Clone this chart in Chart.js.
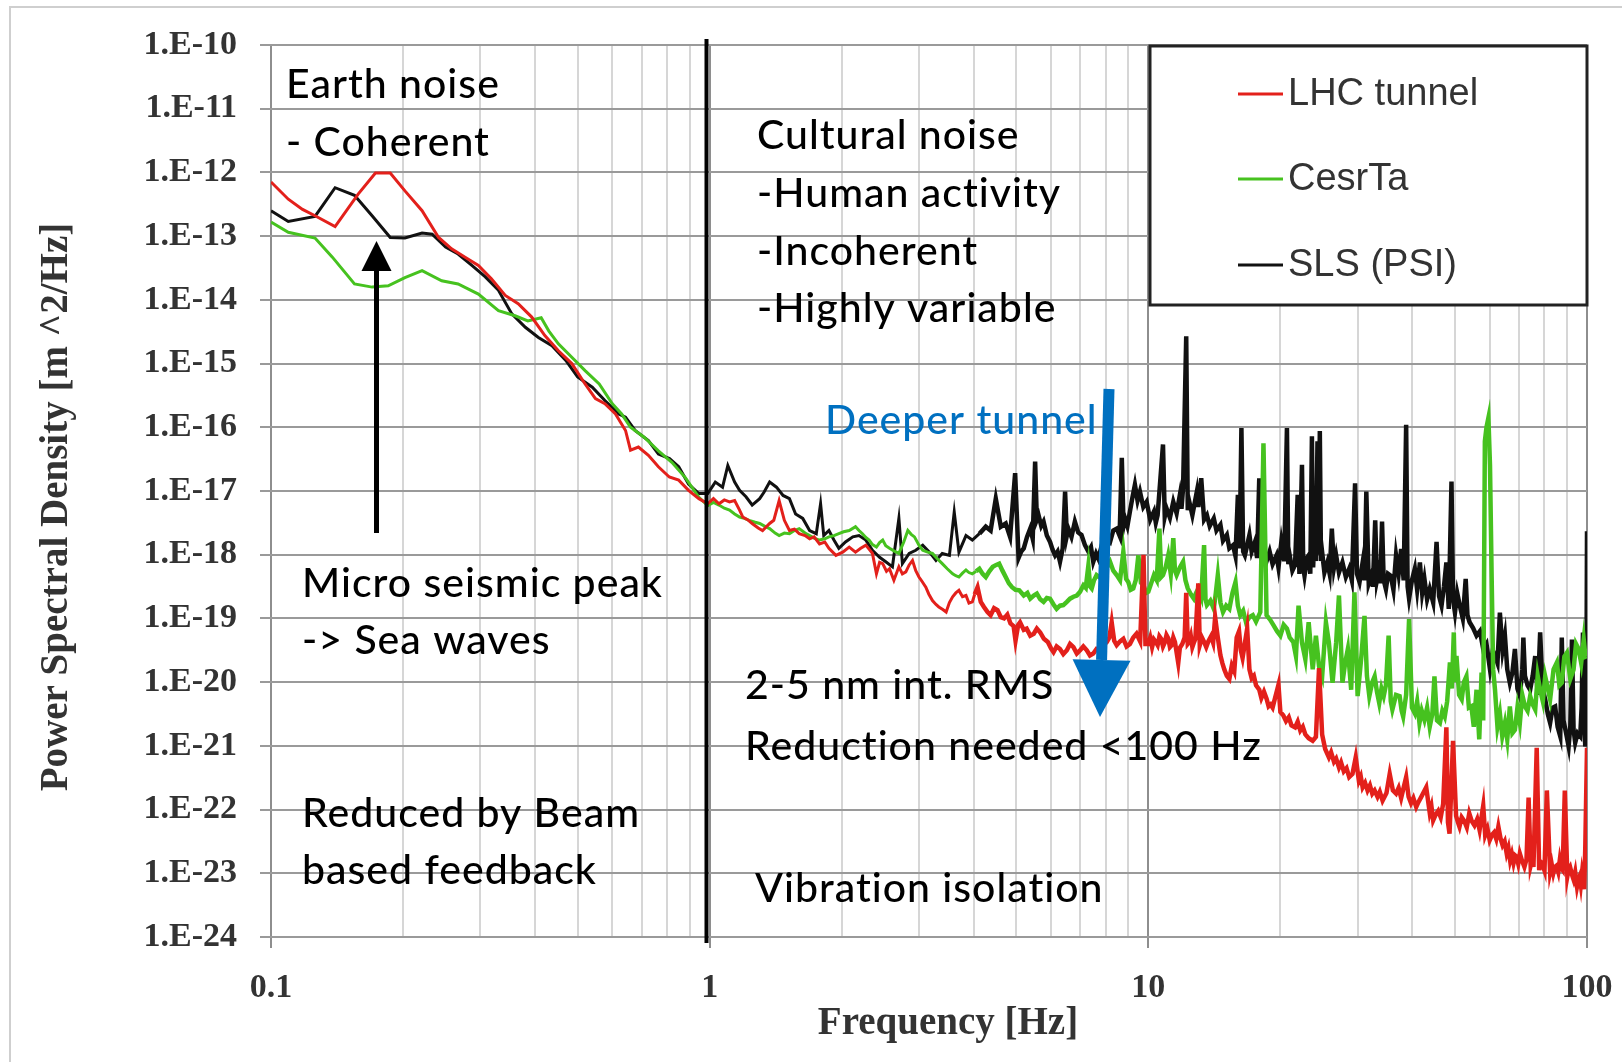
<!DOCTYPE html>
<html>
<head>
<meta charset="utf-8">
<title>Ground motion PSD</title>
<script src="https://cdn.jsdelivr.net/npm/chart.js@4.4.0/dist/chart.umd.min.js"></script>
<style>
    html, body { margin: 0; padding: 0; background: #fff; }
    #psd { display: block; }
</style>
</head>
<body>
<canvas id="psd" width="1622" height="1062"></canvas>
<script>
// [frequency in Hz, log10 of PSD in m^2/Hz]
var lhcTunnel = [
    [0.1, -12.15], [0.1095, -12.42], [0.118, -12.58], [0.126, -12.68], [0.14, -12.85], [0.158, -12.34],
    [0.173, -12.01], [0.187, -12.01], [0.202, -12.29], [0.221, -12.60], [0.241, -13.02], [0.258, -13.20],
    [0.277, -13.33], [0.297, -13.46], [0.318, -13.67], [0.342, -13.93], [0.366, -14.06], [0.393, -14.27],
    [0.421, -14.56], [0.452, -14.80], [0.485, -15.00], [0.52, -15.32], [0.549, -15.55], [0.577, -15.63],
    [0.61, -15.79], [0.643, -16.05], [0.66, -16.36], [0.688, -16.31], [0.725, -16.44], [0.764, -16.62],
    [0.809, -16.78], [0.85, -16.83], [0.895, -16.99], [0.945, -17.12], [0.99, -17.20], [1.02, -17.12],
    [1.05, -17.20], [1.08, -17.14], [1.11, -17.17], [1.14, -17.15], [1.17, -17.30], [1.19, -17.41],
    [1.22, -17.45], [1.25, -17.51], [1.29, -17.58], [1.32, -17.62], [1.37, -17.51], [1.40, -17.46],
    [1.44, -17.15], [1.48, -17.46], [1.52, -17.62], [1.56, -17.60], [1.60, -17.67], [1.65, -17.70],
    [1.69, -17.75], [1.73, -17.72], [1.78, -17.83], [1.83, -17.80], [1.87, -17.90], [1.94, -18.01],
    [2.01, -17.96], [2.08, -17.88], [2.15, -17.96], [2.21, -17.90], [2.27, -17.85], [2.35, -17.98],
    [2.40, -18.30], [2.44, -18.12], [2.48, -18.14], [2.53, -18.26], [2.57, -18.22], [2.63, -18.40],
    [2.70, -18.19], [2.75, -18.30], [2.80, -18.27], [2.85, -18.16], [2.90, -18.09], [2.95, -18.25],
    [3.00, -18.35], [3.05, -18.42], [3.11, -18.51], [3.16, -18.62], [3.22, -18.72], [3.28, -18.78],
    [3.33, -18.82], [3.40, -18.86], [3.46, -18.90], [3.52, -18.75], [3.58, -18.66], [3.64, -18.60],
    [3.70, -18.56], [3.77, -18.66], [3.84, -18.64], [3.90, -18.76], [3.97, -18.74], [4.02, -18.62],
    [4.08, -18.51], [4.15, -18.74], [4.22, -18.82], [4.30, -18.90], [4.37, -18.95], [4.45, -18.84],
    [4.53, -18.87], [4.61, -18.98], [4.69, -19.00], [4.77, -18.94], [4.85, -19.08], [4.93, -19.12],
    [4.98, -19.35], [5.05, -19.10], [5.10, -19.06], [5.20, -19.18], [5.28, -19.16], [5.38, -19.27],
    [5.48, -19.24], [5.57, -19.16], [5.67, -19.22], [5.78, -19.32], [5.90, -19.37], [6.00, -19.47],
    [6.08, -19.53], [6.18, -19.44], [6.29, -19.48], [6.40, -19.56], [6.52, -19.50], [6.63, -19.40],
    [6.75, -19.45], [6.87, -19.55], [6.99, -19.50], [7.11, -19.44], [7.24, -19.50], [7.36, -19.58],
    [7.49, -19.55], [7.62, -19.48], [7.76, -19.50], [7.90, -19.42], [8.04, -19.37], [8.15, -19.30],
    [8.25, -19.06], [8.36, -19.35], [8.47, -19.42], [8.62, -19.36], [8.77, -19.32], [8.92, -19.44],
    [9.08, -19.40], [9.24, -19.30], [9.40, -19.24], [9.58, -19.36], [9.75, -18.00], [9.85, -19.40],
    [10.0, -19.40], [10.1, -19.30], [10.2, -19.45], [10.3, -19.33], [10.4, -19.37], [10.5, -19.42],
    [10.6, -19.28], [10.7, -19.32], [10.8, -19.44], [10.9, -19.38], [11.0, -19.26], [11.1, -19.31],
    [11.2, -19.45], [11.3, -19.42], [11.4, -19.30], [11.5, -19.37], [11.7, -19.70], [11.8, -19.46],
    [11.95, -19.40], [12.1, -19.30], [12.2, -18.60], [12.3, -19.40], [12.4, -19.37], [12.5, -19.28],
    [12.6, -19.45], [12.7, -19.38], [12.8, -19.32], [13.0, -18.45], [13.1, -19.42], [13.25, -19.30],
    [13.4, -19.37], [13.55, -19.45], [13.7, -19.36], [13.9, -19.28], [14.05, -19.38], [14.2, -18.98],
    [14.4, -19.30], [14.6, -19.58], [14.75, -19.70], [14.9, -19.80], [15.1, -19.90], [15.3, -19.95],
    [15.5, -19.74], [15.7, -19.83], [15.9, -19.30], [16.1, -19.20], [16.25, -19.50], [16.4, -19.62],
    [16.8, -19.16], [17.0, -19.80], [17.2, -19.94], [17.4, -19.90], [17.6, -20.05], [17.9, -20.12],
    [18.1, -20.25], [18.35, -20.15], [18.6, -20.26], [18.8, -20.38], [19.0, -20.35], [19.2, -20.40],
    [19.8, -20.04], [20.0, -20.47], [20.3, -20.52], [20.6, -20.61], [20.9, -20.55], [21.2, -20.68],
    [21.6, -20.71], [21.9, -20.62], [22.2, -20.76], [22.5, -20.70], [22.8, -20.82], [23.2, -20.88],
    [23.7, -20.92], [24.1, -20.86], [24.5, -19.78], [24.9, -20.82], [25.3, -21.05], [25.8, -21.18],
    [26.1, -21.10], [26.5, -21.25], [26.8, -21.20], [27.2, -21.34], [27.5, -21.26], [27.9, -21.40],
    [28.3, -21.35], [28.7, -21.49], [29.2, -21.44], [29.7, -21.18], [30.2, -21.55], [30.5, -21.48],
    [30.8, -21.65], [31.2, -21.58], [31.6, -21.70], [32.0, -21.62], [32.4, -21.75], [32.8, -21.70],
    [33.3, -21.80], [33.7, -21.72], [34.2, -21.86], [34.9, -21.74], [35.5, -21.44], [36.1, -21.70],
    [36.7, -21.75], [37.2, -21.66], [37.7, -21.82], [38.7, -21.49], [39.2, -21.80], [39.7, -21.90],
    [40.2, -21.82], [40.8, -21.96], [41.3, -21.88], [41.9, -21.80], [43.0, -21.65], [43.8, -22.05],
    [44.2, -21.95], [44.6, -22.17], [45.2, -22.08], [45.8, -22.02], [46.4, -22.12], [47.0, -21.91],
    [47.8, -20.71], [48.2, -22.20], [48.6, -22.38], [49.5, -20.92], [50.3, -22.10], [50.8, -22.20],
    [51.2, -22.27], [51.8, -22.12], [52.5, -22.18], [53.2, -22.28], [53.9, -22.06], [54.6, -22.18],
    [55.4, -22.25], [56.2, -22.15], [56.9, -22.32], [58.0, -21.94], [58.6, -22.40], [59.3, -22.30],
    [60.0, -22.48], [60.7, -22.40], [61.4, -22.36], [62.1, -22.46], [62.8, -22.27], [63.5, -22.45],
    [64.2, -22.56], [64.9, -22.50], [65.6, -22.69], [66.2, -22.60], [66.8, -22.80], [67.4, -22.70],
    [68.0, -22.84], [68.6, -22.72], [69.1, -22.74], [69.7, -22.85], [70.3, -22.69], [71.1, -22.80],
    [72.0, -22.90], [72.8, -22.78], [73.6, -21.81], [74.4, -22.88], [75.0, -22.78], [75.5, -22.90],
    [76.8, -21.03], [77.8, -22.95], [78.4, -22.82], [78.9, -22.84], [80.0, -22.96], [81.0, -21.70],
    [82.4, -22.98], [83.1, -22.86], [83.8, -23.00], [84.5, -22.90], [85.2, -22.88], [86.0, -22.98],
    [86.7, -22.79], [87.4, -22.92], [88.0, -22.95], [89.0, -21.70], [90.2, -23.05], [90.8, -22.94],
    [91.5, -22.90], [92.4, -23.02], [93.2, -23.10], [94.0, -22.98], [94.9, -23.21], [95.6, -23.10],
    [96.2, -23.05], [96.8, -23.18], [97.4, -23.00], [98.0, -23.12], [98.5, -23.25], [99.1, -22.60],
    [100, -21.03]
];

var cesrTa = [
    [0.1, -12.78], [0.1095, -12.94], [0.126, -13.03], [0.138, -13.33], [0.155, -13.75], [0.17, -13.80],
    [0.185, -13.78], [0.202, -13.65], [0.221, -13.54], [0.245, -13.70], [0.267, -13.75], [0.297, -13.91],
    [0.33, -14.17], [0.36, -14.25], [0.385, -14.33], [0.413, -14.28], [0.43, -14.49], [0.452, -14.69],
    [0.485, -14.90], [0.52, -15.11], [0.56, -15.32], [0.60, -15.63], [0.63, -15.79], [0.66, -16.00],
    [0.71, -16.16], [0.764, -16.37], [0.82, -16.55], [0.88, -16.79], [0.945, -17.10], [0.99, -17.23],
    [1.02, -17.18], [1.05, -17.22], [1.08, -17.27], [1.11, -17.30], [1.14, -17.36], [1.17, -17.41],
    [1.20, -17.43], [1.23, -17.46], [1.27, -17.49], [1.30, -17.51], [1.34, -17.56], [1.37, -17.59],
    [1.41, -17.66], [1.44, -17.70], [1.48, -17.66], [1.52, -17.67], [1.56, -17.62], [1.60, -17.59],
    [1.65, -17.66], [1.69, -17.70], [1.73, -17.74], [1.78, -17.77], [1.83, -17.75], [1.87, -17.72],
    [1.92, -17.70], [1.97, -17.67], [2.02, -17.64], [2.08, -17.62], [2.15, -17.56], [2.19, -17.62],
    [2.23, -17.67], [2.27, -17.73], [2.31, -17.77], [2.35, -17.84], [2.40, -17.88], [2.44, -17.81],
    [2.48, -17.77], [2.52, -17.86], [2.57, -17.90], [2.63, -17.94], [2.70, -17.98], [2.77, -17.80],
    [2.83, -17.62], [2.88, -17.68], [2.93, -17.72], [3.00, -17.85], [3.06, -17.93], [3.14, -17.96],
    [3.22, -17.98], [3.30, -18.06], [3.39, -18.14], [3.48, -18.22], [3.58, -18.30], [3.64, -18.33],
    [3.70, -18.35], [3.77, -18.29], [3.84, -18.24], [3.90, -18.28], [3.97, -18.30], [4.05, -18.26],
    [4.12, -18.22], [4.19, -18.30], [4.26, -18.35], [4.34, -18.26], [4.42, -18.19], [4.50, -18.16],
    [4.57, -18.14], [4.65, -18.25], [4.73, -18.35], [4.81, -18.45], [4.89, -18.51], [4.98, -18.55],
    [5.08, -18.56], [5.20, -18.64], [5.30, -18.60], [5.38, -18.69], [5.48, -18.64], [5.57, -18.61],
    [5.67, -18.70], [5.77, -18.74], [5.87, -18.68], [5.97, -18.69], [6.08, -18.78], [6.18, -18.85],
    [6.29, -18.80], [6.40, -18.79], [6.52, -18.74], [6.63, -18.69], [6.75, -18.66], [6.87, -18.64],
    [6.99, -18.58], [7.11, -18.48], [7.20, -18.52], [7.30, -18.17], [7.37, -18.50], [7.43, -18.53],
    [7.52, -18.40], [7.62, -18.32], [7.76, -18.36], [7.90, -18.27], [8.04, -18.20], [8.18, -18.11],
    [8.32, -18.25], [8.47, -18.32], [8.62, -18.40], [8.77, -17.95], [8.90, -18.38], [9.00, -18.43],
    [9.12, -18.55], [9.24, -18.53], [9.36, -18.40], [9.49, -18.01], [9.62, -18.44], [9.75, -18.48],
    [9.88, -18.60], [10.0, -18.58], [10.15, -18.45], [10.3, -18.32], [10.45, -18.40], [10.6, -17.59],
    [10.7, -18.35], [10.8, -18.32], [10.95, -18.20], [11.1, -18.01], [11.25, -18.30], [11.4, -17.74],
    [11.5, -18.25], [11.6, -18.32], [11.8, -18.20], [12.0, -18.11], [12.15, -18.40], [12.3, -18.53],
    [12.5, -18.62], [12.7, -18.69], [12.85, -18.60], [13.0, -18.53], [13.2, -18.66], [13.4, -17.85],
    [13.5, -18.70], [13.6, -18.79], [13.85, -18.72], [14.1, -18.85], [14.25, -18.60], [14.4, -18.32],
    [14.6, -18.75], [14.8, -18.90], [15.05, -18.80], [15.3, -18.85], [15.55, -18.60], [15.8, -18.43],
    [16.0, -18.80], [16.2, -18.95], [16.45, -18.88], [16.7, -19.06], [17.0, -18.98], [17.3, -18.95],
    [17.6, -19.05], [18.0, -18.90], [18.3, -16.25], [18.6, -18.95], [18.95, -19.02], [19.3, -19.11],
    [19.65, -19.20], [20.0, -19.27], [20.35, -19.10], [20.7, -19.16], [21.0, -19.30], [21.4, -19.37],
    [21.7, -19.59], [22.0, -18.80], [22.4, -19.38], [22.8, -19.64], [23.2, -19.06], [23.7, -19.80],
    [24.1, -19.27], [24.5, -19.75], [24.9, -19.91], [25.4, -19.06], [25.8, -19.38], [26.3, -20.01],
    [26.8, -19.38], [27.2, -18.64], [27.7, -20.01], [28.1, -19.70], [28.5, -19.48], [29.0, -20.12],
    [29.5, -18.59], [30.0, -20.22], [30.6, -19.59], [31.1, -18.96], [31.5, -19.90], [31.9, -20.22],
    [32.4, -20.00], [32.8, -19.91], [33.2, -20.15], [33.6, -20.33], [34.0, -20.10], [34.4, -20.22],
    [34.8, -20.05], [35.3, -19.27], [35.7, -20.30], [36.0, -20.43], [36.7, -20.20], [37.4, -20.22],
    [37.8, -20.45], [38.1, -20.54], [38.7, -20.20], [39.3, -19.01], [39.9, -20.40], [40.5, -20.49],
    [41.0, -20.30], [41.5, -20.64], [42.0, -20.45], [42.6, -20.59], [43.2, -20.40], [43.8, -20.70],
    [44.4, -20.50], [44.9, -19.91], [45.5, -20.60], [46.2, -20.64], [46.8, -20.45], [47.4, -20.54],
    [48.0, -20.30], [48.7, -19.69], [49.2, -20.10], [49.7, -19.22], [50.0, -20.00], [50.4, -19.59],
    [51.1, -20.20], [51.8, -20.27], [52.4, -20.00], [53.1, -19.91], [53.8, -20.40], [54.5, -20.38],
    [55.2, -20.70], [56.0, -20.12], [56.8, -20.90], [57.5, -19.85], [58.0, -20.60], [58.5, -16.22],
    [59.0, -16.00], [59.6, -15.85], [60.1, -16.60], [60.6, -18.27], [61.1, -19.80], [61.7, -20.12],
    [62.5, -20.70], [63.3, -20.49], [64.1, -20.85], [65.0, -20.64], [65.8, -20.90], [66.7, -20.38],
    [67.6, -20.80], [68.5, -20.75], [69.4, -20.40], [70.3, -20.64], [71.2, -20.20], [72.2, -20.38],
    [73.2, -20.45], [74.2, -20.22], [75.2, -20.35], [76.2, -20.43], [77.2, -19.90], [78.2, -20.12],
    [79.3, -20.30], [80.3, -19.91], [81.4, -20.10], [82.4, -20.27], [83.9, -19.80], [85.4, -19.69],
    [86.5, -20.05], [87.6, -20.01], [88.8, -19.60], [90.0, -19.54], [91.6, -19.95], [93.2, -19.80],
    [94.4, -19.40], [95.7, -19.48], [97.0, -19.70], [98.3, -19.33], [99.2, -19.60], [100, -19.59]
];

var slsPsi = [
    [0.1, -12.60], [0.1095, -12.77], [0.126, -12.69], [0.14, -12.24], [0.155, -12.36], [0.17, -12.68],
    [0.187, -13.02], [0.202, -13.03], [0.221, -12.95], [0.233, -12.97], [0.25, -13.17], [0.267, -13.28],
    [0.287, -13.46], [0.308, -13.64], [0.33, -13.85], [0.354, -14.22], [0.38, -14.43], [0.407, -14.59],
    [0.437, -14.72], [0.47, -14.95], [0.50, -15.21], [0.54, -15.37], [0.577, -15.58], [0.62, -15.79],
    [0.643, -15.84], [0.676, -16.05], [0.725, -16.21], [0.764, -16.42], [0.81, -16.49], [0.85, -16.62],
    [0.895, -16.89], [0.945, -17.04], [0.99, -17.04], [1.03, -16.86], [1.07, -16.94], [1.10, -16.60],
    [1.14, -16.86], [1.17, -16.99], [1.21, -17.09], [1.25, -17.22], [1.30, -17.12], [1.33, -17.02],
    [1.37, -16.86], [1.42, -16.94], [1.47, -17.07], [1.52, -17.12], [1.57, -17.36], [1.63, -17.43],
    [1.69, -17.62], [1.75, -17.67], [1.79, -17.20], [1.82, -17.70], [1.87, -17.62], [1.92, -17.77],
    [1.97, -17.90], [2.04, -17.80], [2.12, -17.72], [2.19, -17.70], [2.27, -17.77], [2.35, -17.93],
    [2.44, -18.04], [2.52, -18.11], [2.61, -18.19], [2.70, -17.43], [2.75, -18.14], [2.85, -17.98],
    [2.95, -17.93], [3.06, -17.85], [3.17, -17.96], [3.28, -18.09], [3.39, -17.98], [3.52, -18.01],
    [3.61, -17.33], [3.70, -17.96], [3.84, -17.70], [3.97, -17.77], [4.12, -17.67], [4.26, -17.56],
    [4.37, -17.62], [4.49, -17.12], [4.61, -17.56], [4.73, -17.51], [4.84, -17.72], [4.97, -16.72],
    [5.06, -18.05], [5.13, -17.95], [5.20, -17.90], [5.29, -17.72], [5.38, -17.59], [5.45, -17.75],
    [5.52, -16.54], [5.57, -17.45], [5.62, -17.38], [5.70, -17.55], [5.77, -17.48], [5.87, -17.70],
    [5.97, -17.80], [6.05, -17.92], [6.13, -18.01], [6.21, -17.95], [6.29, -18.11], [6.38, -17.90],
    [6.46, -17.01], [6.52, -17.70], [6.57, -17.59], [6.68, -17.72], [6.80, -17.48], [6.92, -17.65],
    [7.04, -17.69], [7.17, -17.85], [7.30, -17.95], [7.40, -17.88], [7.49, -18.11], [7.60, -17.98],
    [7.69, -18.06], [7.80, -17.90], [7.90, -17.95], [8.04, -17.75], [8.18, -17.80], [8.32, -17.62],
    [8.47, -17.59], [8.60, -17.70], [8.70, -16.48], [8.78, -17.55], [8.85, -17.43], [8.96, -17.55],
    [9.08, -17.32], [9.20, -17.10], [9.32, -16.90], [9.45, -17.15], [9.57, -17.01], [9.74, -17.25],
    [9.91, -17.17], [10.1, -17.45], [10.3, -17.32], [10.4, -17.50], [10.5, -17.38], [10.8, -16.27],
    [10.9, -17.40], [11.0, -17.27], [11.2, -17.42], [11.4, -17.17], [11.6, -17.35], [11.8, -17.06],
    [11.9, -17.28], [12.0, -16.96], [12.2, -14.57], [12.3, -17.30], [12.4, -17.17], [12.6, -17.38],
    [12.9, -17.01], [13.0, -17.25], [13.2, -16.80], [13.4, -17.45], [13.6, -17.38], [13.8, -17.55],
    [14.1, -17.43], [14.3, -17.62], [14.6, -17.53], [14.8, -17.78], [15.1, -17.69], [15.3, -17.90],
    [15.6, -17.85], [15.8, -18.02], [16.0, -17.06], [16.15, -17.90], [16.3, -16.01], [16.45, -17.95],
    [16.6, -18.01], [16.8, -17.85], [17.0, -17.69], [17.2, -17.95], [17.5, -17.80], [17.7, -18.05],
    [17.9, -16.80], [18.1, -18.05], [18.3, -17.90], [18.6, -18.10], [18.9, -17.95], [19.2, -18.15],
    [19.6, -18.01], [19.8, -18.20], [20.1, -17.80], [20.4, -18.10], [20.7, -16.01], [20.85, -18.15],
    [21.0, -18.01], [21.3, -18.25], [21.6, -18.16], [21.9, -17.06], [22.1, -18.30], [22.4, -16.59],
    [22.55, -18.20], [22.7, -18.33], [23.0, -18.05], [23.2, -18.01], [23.4, -18.30], [23.6, -16.14],
    [23.75, -18.20], [23.9, -17.75], [24.1, -18.10], [24.3, -16.22], [24.45, -18.00], [24.6, -16.06],
    [24.75, -18.10], [24.9, -17.96], [25.2, -18.28], [25.6, -18.12], [25.9, -18.30], [26.2, -17.59],
    [26.5, -18.20], [26.8, -18.01], [27.2, -18.28], [27.7, -18.12], [28.2, -18.35], [28.7, -18.22],
    [29.1, -18.40], [29.6, -16.88], [29.9, -18.30], [30.3, -18.43], [30.8, -18.12], [31.1, -18.40],
    [31.4, -17.01], [31.8, -18.45], [32.2, -18.33], [32.5, -18.50], [32.9, -17.46], [33.2, -18.40],
    [33.6, -18.22], [33.8, -18.45], [34.1, -17.48], [34.4, -18.40], [34.8, -18.54], [35.2, -18.30],
    [35.7, -18.33], [36.2, -18.55], [36.7, -18.01], [37.2, -18.30], [37.7, -17.91], [38.2, -18.40],
    [38.7, -15.96], [39.0, -18.50], [39.3, -18.69], [39.9, -18.40], [40.5, -18.22], [41.0, -18.55],
    [41.6, -18.12], [42.1, -18.60], [42.6, -18.38], [43.2, -18.70], [43.8, -18.54], [44.6, -18.75],
    [45.4, -17.80], [46.0, -18.65], [46.6, -18.80], [47.2, -18.50], [47.8, -18.12], [48.4, -18.85],
    [49.1, -16.85], [49.5, -18.70], [50.0, -18.91], [50.6, -18.60], [51.3, -18.80], [52.1, -19.00],
    [52.9, -18.38], [53.4, -18.95], [54.0, -19.06], [55.0, -19.15], [56.0, -19.27], [57.0, -19.20],
    [58.0, -19.48], [59.0, -19.40], [60.1, -19.80], [61.0, -19.50], [61.7, -19.59], [62.5, -19.70],
    [63.3, -18.91], [64.2, -19.50], [65.0, -19.27], [65.8, -19.80], [66.7, -20.01], [67.6, -19.85],
    [68.5, -19.48], [69.4, -20.10], [70.3, -20.22], [71.2, -19.80], [71.6, -19.30], [72.2, -19.90],
    [73.2, -20.05], [74.2, -20.12], [75.2, -19.90], [76.2, -19.59], [77.2, -20.20], [78.2, -19.22],
    [79.2, -20.10], [80.3, -20.27], [81.4, -20.50], [82.4, -20.64], [83.5, -20.40], [84.6, -20.38],
    [85.7, -20.70], [86.9, -20.85], [87.6, -19.30], [88.4, -20.60], [89.6, -20.80], [90.8, -21.01],
    [91.6, -20.70], [92.4, -19.33], [93.2, -20.75], [94.0, -20.95], [95.2, -20.80], [96.5, -20.85],
    [97.2, -20.40], [97.9, -19.22], [98.6, -20.60], [99.1, -21.01], [99.6, -20.90], [100, -17.63]
];

var seriesNames = ['LHC tunnel', 'CesrTa', 'SLS (PSI)'];
var seriesColors = ['#e3201b', '#46c21f', '#111111'];

// axis ticks: decades only carry a label
var xTickValues = [0.1, 1, 10, 100];
var xTickLabels = ['0.1', '1', '10', '100'];
var yTickExponents = [-24, -23, -22, -21, -20, -19, -18, -17, -16, -15, -14, -13, -12, -11, -10];

var notes = [
    {text: 'Earth noise', x: 286, y: 98},
    {text: '- Coherent', x: 286, y: 156},
    {text: 'Cultural noise', x: 757, y: 149},
    {text: '-Human activity', x: 757, y: 207},
    {text: '-Incoherent', x: 757, y: 265},
    {text: '-Highly variable', x: 757, y: 322},
    {text: 'Deeper tunnel', x: 825, y: 434, color: '#0070c0'},
    {text: 'Micro seismic peak', x: 302, y: 597},
    {text: '-> Sea waves', x: 302, y: 654},
    {text: '2-5 nm int. RMS', x: 745, y: 699},
    {text: 'Reduction needed <100 Hz', x: 745, y: 760},
    {text: 'Reduced by Beam', x: 302, y: 827},
    {text: 'based feedback', x: 302, y: 884},
    {text: 'Vibration isolation', x: 755, y: 902}
];

function isDecade(v) {
    var l = Math.log10(v);
    return Math.abs(l - Math.round(l)) < 1e-6;
}

function toPoints(series) {
    return series.map(function (p) {
        return {x: p[0], y: Math.pow(10, p[1])};
    });
}

function drawArrow(c, x0, y0, x1, y1, shaft, headLen, headHalf, color) {
    var ang = Math.atan2(y1 - y0, x1 - x0);
    var bx = x1 - Math.cos(ang) * headLen;
    var by = y1 - Math.sin(ang) * headLen;
    c.strokeStyle = color;
    c.fillStyle = color;
    c.lineWidth = shaft;
    c.lineCap = 'butt';
    c.beginPath();
    c.moveTo(x0, y0);
    c.lineTo(bx, by);
    c.stroke();
    c.beginPath();
    c.moveTo(x1, y1);
    c.lineTo(bx + Math.sin(ang) * headHalf, by - Math.cos(ang) * headHalf);
    c.lineTo(bx - Math.sin(ang) * headHalf, by + Math.cos(ang) * headHalf);
    c.closePath();
    c.fill();
}

var psdNotes = {
    id: 'psdNotes',
    beforeDraw: function (chart) {
        var c = chart.ctx;
        c.save();
        c.fillStyle = '#ffffff';
        c.fillRect(0, 0, chart.width, chart.height);
        c.strokeStyle = '#cfcfcf';
        c.lineWidth = 2;
        c.beginPath();
        c.moveTo(10, chart.height);
        c.lineTo(10, 7);
        c.lineTo(chart.width, 7);
        c.stroke();
        c.restore();
    },
    afterDatasetsDraw: function (chart) {
        var c = chart.ctx;
        var area = chart.chartArea;
        c.save();

        // split between earth noise and cultural noise
        c.strokeStyle = '#000';
        c.lineWidth = 4;
        c.beginPath();
        c.moveTo(706.5, 39);
        c.lineTo(706.5, 943);
        c.stroke();

        drawArrow(c, 376.5, 533, 376.5, 241, 5, 30, 15, '#000');
        drawArrow(c, 1109, 389, 1100, 717, 11, 57, 29, '#0070c0');

        c.textBaseline = 'alphabetic';
        c.textAlign = 'left';
        c.font = '500 41px Lato';
        c.letterSpacing = '1px';
        notes.forEach(function (n) {
            c.fillStyle = n.color || '#000';
            c.fillText(n.text, n.x, n.y);
        });
        c.letterSpacing = '0px';

        // legend box in the top right corner of the plot
        var lx = 1150, ly = area.top + 1, lw = area.right - 1150, lh = 259;
        c.fillStyle = '#fff';
        c.fillRect(lx, ly, lw, lh);
        c.strokeStyle = '#222';
        c.lineWidth = 3;
        c.strokeRect(lx, ly, lw, lh);
        var rowY = [94, 179, 265];
        c.font = '38px "Liberation Sans"';
        c.textBaseline = 'middle';
        chart.data.datasets.forEach(function (ds, i) {
            c.strokeStyle = ds.borderColor;
            c.lineWidth = 3;
            c.beginPath();
            c.moveTo(1238, rowY[i]);
            c.lineTo(1283, rowY[i]);
            c.stroke();
            c.fillStyle = '#333';
            c.fillText(ds.label, 1288, rowY[i] + 1);
        });

        // axis titles
        c.fillStyle = '#333';
        c.font = 'bold 39px "Liberation Serif"';
        c.textAlign = 'center';
        c.textBaseline = 'middle';
        c.fillText('Frequency [Hz]', 948, 1024);
        c.translate(57, 507);
        c.rotate(-Math.PI / 2);
        c.fillText('Power Spectral Density [m ^2/Hz]', 0, 0);
        c.restore();
    }
};

var tickFont = {family: 'Liberation Serif', size: 34, weight: 'bold'};

new Chart(document.getElementById('psd'), {
    type: 'line',
    data: {
        datasets: [lhcTunnel, cesrTa, slsPsi].map(function (s, i) {
            return {
                label: seriesNames[i],
                data: toPoints(s),
                borderColor: seriesColors[i],
                borderWidth: 3,
                pointRadius: 0,
                tension: 0,
                fill: false,
                // the spectra turn into a dense noise band above a few Hz
                segment: {
                    borderWidth: function (ctx) { return ctx.p0.parsed.x > 4 ? 4.5 : 3; }
                }
            };
        })
    },
    options: {
        responsive: false,
        animation: false,
        events: [],
        layout: {padding: {top: 45, right: 35, left: 0, bottom: 0}},
        plugins: {
            legend: {display: false},
            tooltip: {enabled: false}
        },
        scales: {
            x: {
                type: 'logarithmic',
                min: 0.1,
                max: 100,
                afterFit: function (s) {
                    s.height = 125;
                    s.paddingLeft = 0;
                    s.paddingRight = 0;
                },
                afterBuildTicks: function (s) {
                    var t = [];
                    xTickValues.forEach(function (d, k) {
                        if (k === xTickValues.length - 1) {
                            t.push({value: d});
                            return;
                        }
                        for (var m = 1; m < 10; m++) t.push({value: +(d * m).toPrecision(6)});
                    });
                    s.ticks = t;
                },
                grid: {
                    color: function (c) { return isDecade(c.tick.value) ? '#8e8e8e' : '#d6d6d6'; },
                    tickColor: function (c) { return isDecade(c.tick.value) ? '#8e8e8e' : 'rgba(0,0,0,0)'; },
                    lineWidth: 2,
                    tickLength: 11
                },
                border: {display: false},
                ticks: {
                    autoSkip: false,
                    maxRotation: 0,
                    padding: 20,
                    color: '#333',
                    font: tickFont,
                    callback: function (v) {
                        var k = xTickValues.indexOf(+v);
                        return k < 0 ? '' : xTickLabels[k];
                    }
                }
            },
            y: {
                type: 'logarithmic',
                min: 1e-24,
                max: 1e-10,
                afterFit: function (s) { s.width = 271; },
                afterBuildTicks: function (s) {
                    s.ticks = yTickExponents.map(function (e) { return {value: Math.pow(10, e)}; });
                },
                grid: {color: '#9a9a9a', lineWidth: 2, tickLength: 11},
                border: {display: false},
                ticks: {
                    padding: 23,
                    color: '#333',
                    font: tickFont,
                    callback: function (v) {
                        return '1.E' + Math.round(Math.log10(v));
                    }
                }
            }
        }
    },
    plugins: [psdNotes]
});
</script>
</body>
</html>
